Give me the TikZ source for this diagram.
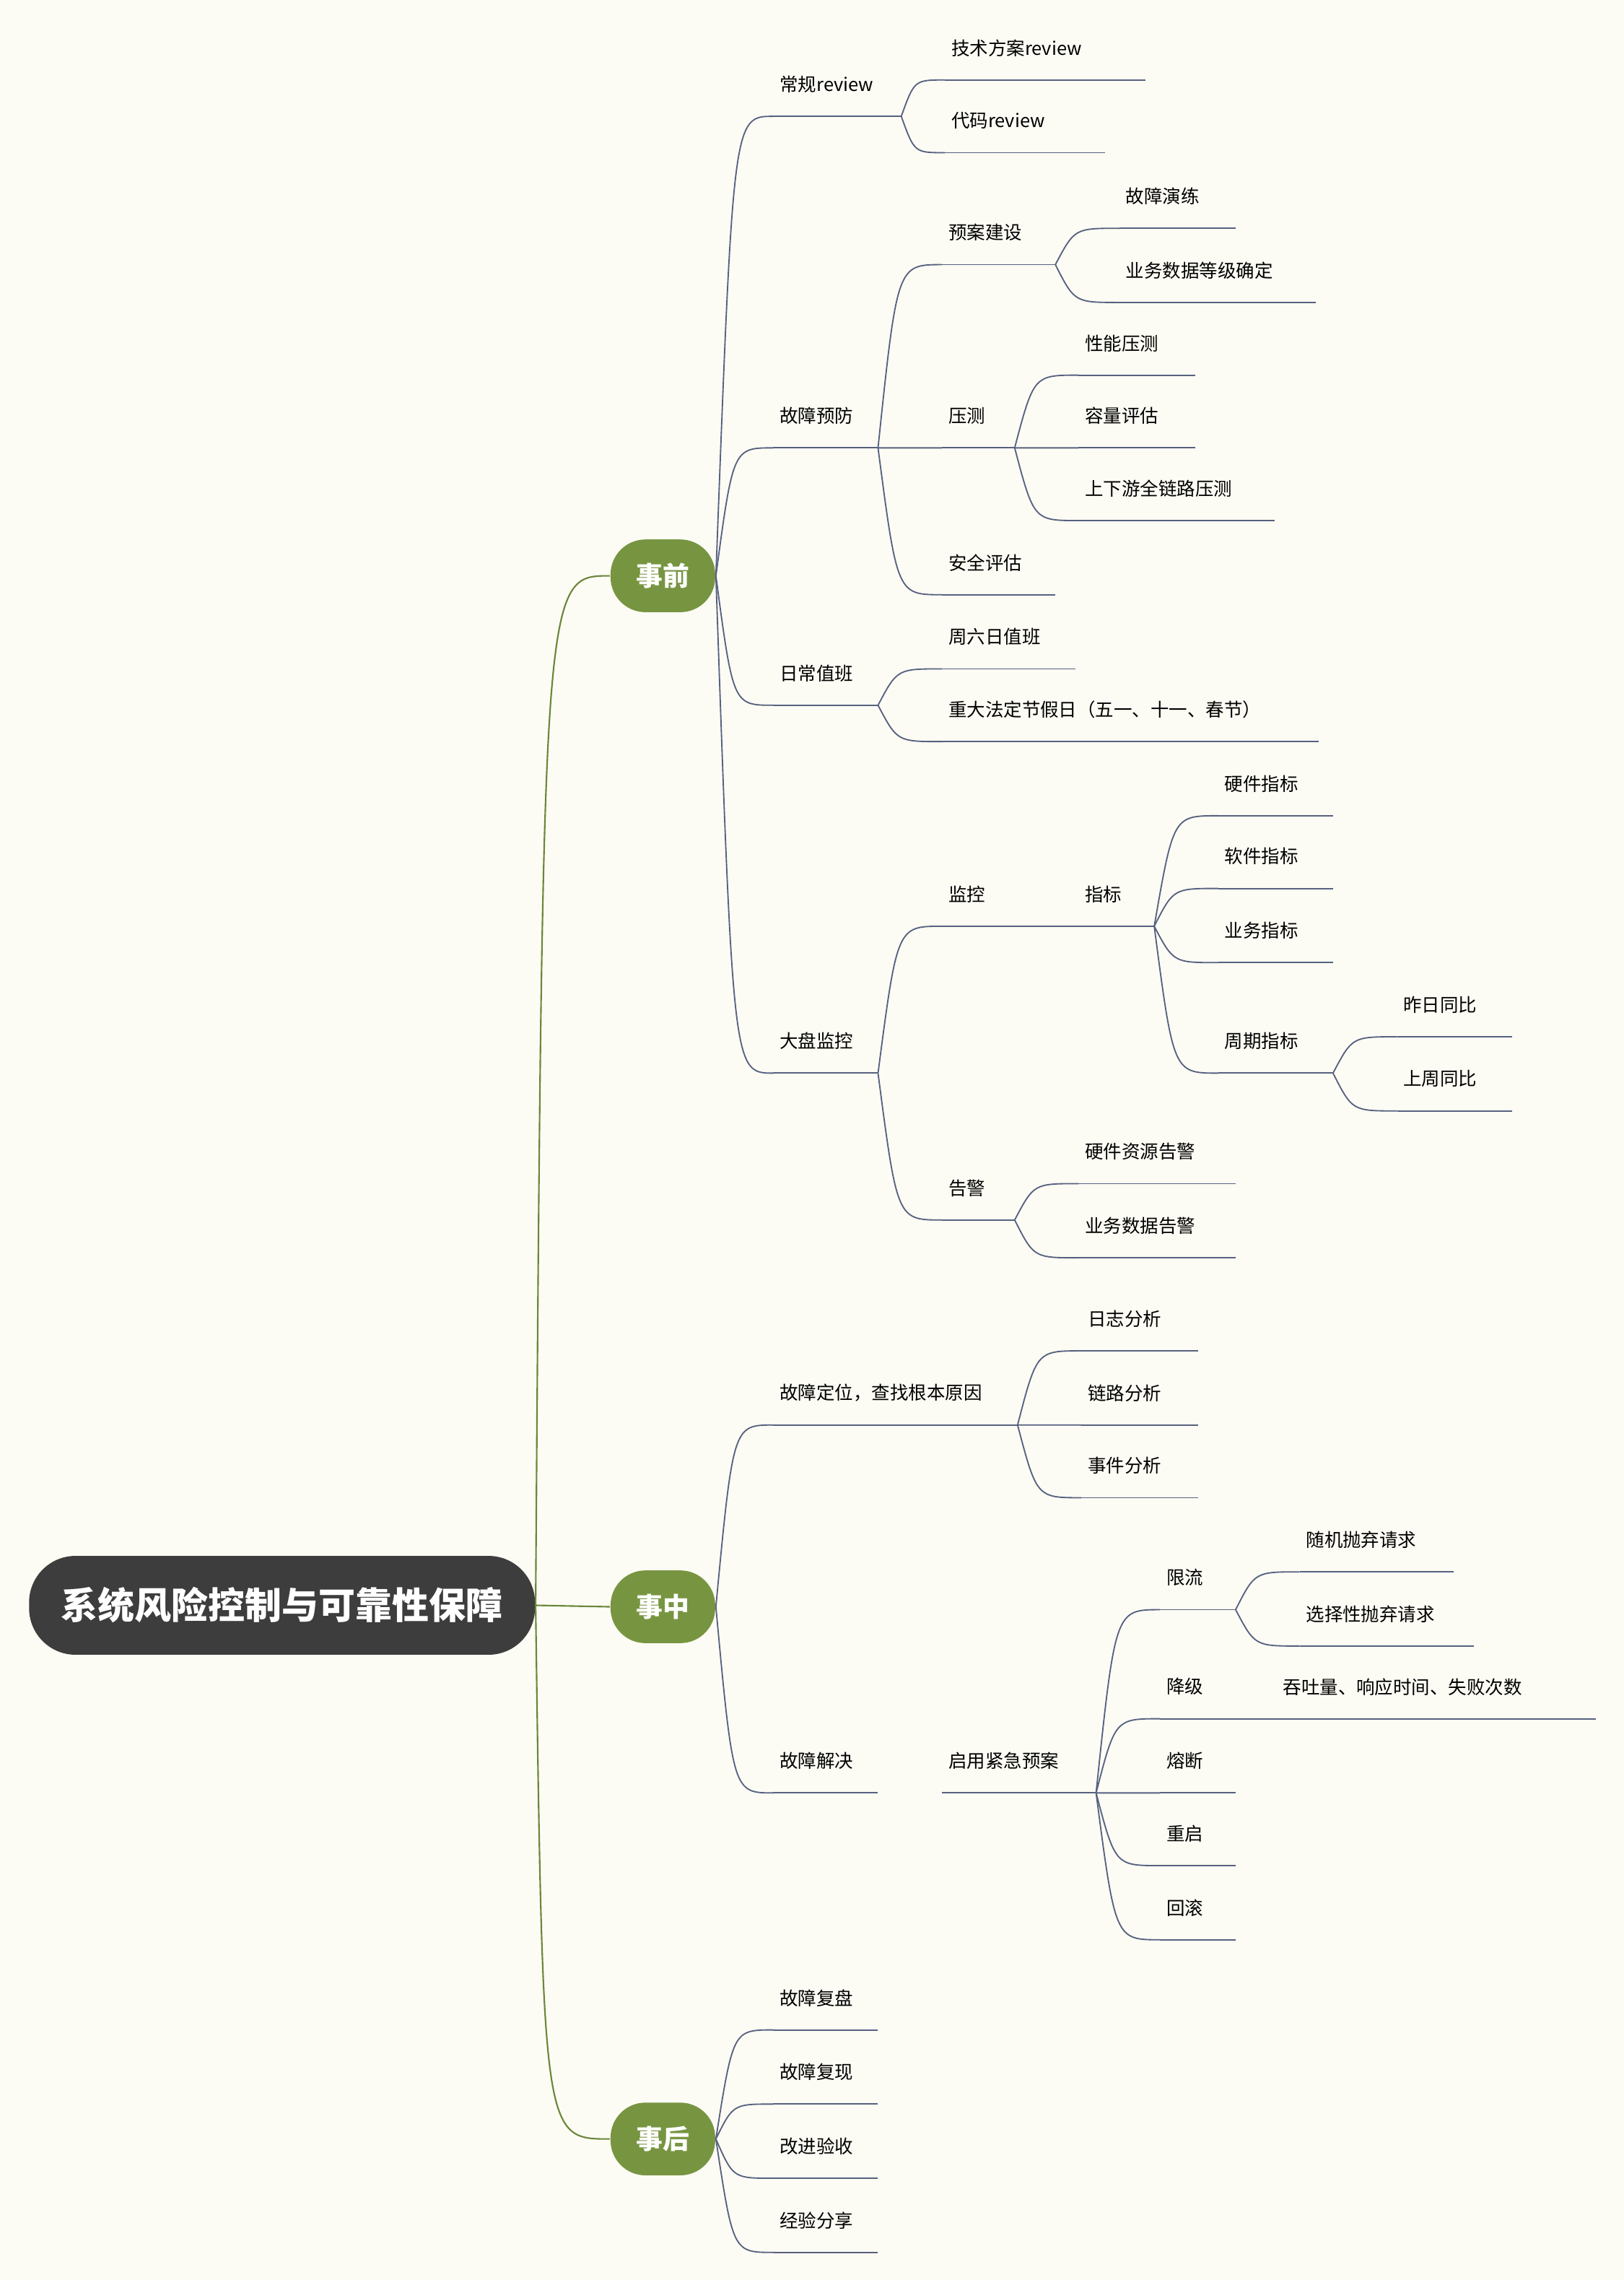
\documentclass[tikz,border=0pt]{standalone}
\usepackage{fontspec}
\setmainfont{Noto Sans CJK SC}
\usetikzlibrary{calc}
\definecolor{bgcol}{HTML}{FCFBF4}
\definecolor{linecol}{HTML}{56617F}
\definecolor{leafgreen}{HTML}{779541}
\definecolor{rootgray}{HTML}{3D3D3D}
\tikzset{
  every picture/.style={line width=1.3pt},
  uline/.style={draw=linecol, line width=1.3pt},
  lnk/.style={draw=linecol, line width=1.3pt},
  glnk/.style={draw=leafgreen!90!black, line width=1.5pt},
  tlabel/.style={anchor=west, inner sep=0pt, font=\fontsize{18}{20}\selectfont},
  lvl/.style={fill=leafgreen, text=white, rounded corners=12mm,
    minimum width=36mm, minimum height=25mm, font=\fontsize{26}{28}\selectfont\bfseries},
  rootbox/.style={fill=rootgray, text=white, rounded corners=16mm,
    minimum width=174mm, minimum height=34mm, font=\fontsize{36}{40}\selectfont\bfseries}
}
\newcommand\topic[5]{%
  \coordinate (#1-l) at (#2,#4);
  \coordinate (#1-r) at (#3,#4);
  \draw[uline] (#1-l) -- (#1-r);
  \node[tlabel] (#1) at ($(#1-l)+(4,-22)$) {#5};}
\newcommand\link[2]{%
  \draw[lnk] (#1) .. controls ($(#1|-#2)!0.3!(#2)$) .. (#2);}
\begin{document}
\begin{tikzpicture}[x=0.5mm, y=-0.5mm]
  \fill[bgcol] (0,0) rectangle (1117,1568);
  \useasboundingbox (0,0) rectangle (1117,1568);
  % root and main branches
  \node[rootbox] (root) at (194,1104) {系统风险控制与可靠性保障};
  \node[lvl] (pre) at (456,396) {事前};
  \node[lvl] (mid) at (456,1105) {事中};
  \node[lvl] (post) at (456,1471) {事后};
  \draw[glnk] (root.east) .. controls ($(root.east|-pre.west)!0.1!(pre.west)$) .. (pre.west);
  \draw[glnk] (root.east) -- (mid.west);
  \draw[glnk] (root.east) .. controls ($(root.east|-post.west)!0.1!(post.west)$) .. (post.west);
  % before
  \topic{rev}{532}{620}{80}{常规review}
  \topic{rev1}{650}{788}{55}{技术方案review}
  \topic{rev2}{650}{760}{105}{代码review}
  \topic{prev}{532}{604}{308}{故障预防}
  \topic{plan}{648}{726}{182}{预案建设}
  \topic{plan1}{770}{850}{157}{故障演练}
  \topic{plan2}{770}{905}{208}{业务数据等级确定}
  \topic{load}{648}{698}{308}{压测}
  \topic{load1}{742}{822}{258}{性能压测}
  \topic{load2}{742}{822}{308}{容量评估}
  \topic{load3}{742}{877}{358}{上下游全链路压测}
  \topic{sec}{648}{726}{409}{安全评估}
  \topic{duty}{532}{604}{485}{日常值班}
  \topic{duty1}{648}{740}{460}{周六日值班}
  \topic{duty2}{648}{907}{510}{重大法定节假日（五一、十一、春节）}
  \topic{dash}{532}{604}{738}{大盘监控}
  \topic{mon}{648}{742}{637}{监控}
  \topic{ind}{742}{794}{637}{指标}
  \topic{ind1}{838}{917}{561}{硬件指标}
  \topic{ind2}{838}{917}{611}{软件指标}
  \topic{ind3}{838}{917}{662}{业务指标}
  \topic{ind4}{838}{917}{738}{周期指标}
  \topic{cyc1}{961}{1040}{713}{昨日同比}
  \topic{cyc2}{961}{1040}{764}{上周同比}
  \topic{alm}{648}{698}{839}{告警}
  \topic{alm1}{742}{850}{814}{硬件资源告警}
  \topic{alm2}{742}{850}{865}{业务数据告警}
  \foreach \c in {rev,prev,duty,dash} {\link{pre.east}{\c-l}}
  \foreach \c in {rev1,rev2} {\link{rev-r}{\c-l}}
  \foreach \c in {plan,load,sec} {\link{prev-r}{\c-l}}
  \foreach \c in {plan1,plan2} {\link{plan-r}{\c-l}}
  \foreach \c in {load1,load2,load3} {\link{load-r}{\c-l}}
  \foreach \c in {duty1,duty2} {\link{duty-r}{\c-l}}
  \foreach \c in {mon,alm} {\link{dash-r}{\c-l}}
  \foreach \c in {ind1,ind2,ind3,ind4} {\link{ind-r}{\c-l}}
  \foreach \c in {cyc1,cyc2} {\link{ind4-r}{\c-l}}
  \foreach \c in {alm1,alm2} {\link{alm-r}{\c-l}}
  % during
  \topic{loc}{532}{700}{980}{故障定位，查找根本原因}
  \topic{loc1}{744}{824}{929}{日志分析}
  \topic{loc2}{744}{824}{980}{链路分析}
  \topic{loc3}{744}{824}{1030}{事件分析}
  \topic{fix}{532}{604}{1233}{故障解决}
  \topic{emg}{648}{754}{1233}{启用紧急预案}
  \topic{lim}{798}{850}{1107}{限流}
  \topic{lim1}{894}{1000}{1081}{随机抛弃请求}
  \topic{lim2}{894}{1014}{1132}{选择性抛弃请求}
  \topic{deg}{798}{850}{1182}{降级}
  \topic{deg1}{850}{1098}{1182}{\hspace*{40pt}吞吐量、响应时间、失败次数}
  \topic{brk}{798}{850}{1233}{熔断}
  \topic{rst}{798}{850}{1283}{重启}
  \topic{rbk}{798}{850}{1334}{回滚}
  \foreach \c in {loc,fix} {\link{mid.east}{\c-l}}
  \foreach \c in {loc1,loc2,loc3} {\link{loc-r}{\c-l}}
  \foreach \c in {lim,deg,brk,rst,rbk} {\link{emg-r}{\c-l}}
  \foreach \c in {lim1,lim2} {\link{lim-r}{\c-l}}
  % after
  \topic{rev3}{532}{604}{1396}{故障复盘}
  \topic{rep}{532}{604}{1447}{故障复现}
  \topic{acc}{532}{604}{1498}{改进验收}
  \topic{shr}{532}{604}{1549}{经验分享}
  \foreach \c in {rev3,rep,acc,shr} {\link{post.east}{\c-l}}
\end{tikzpicture}
\end{document}
